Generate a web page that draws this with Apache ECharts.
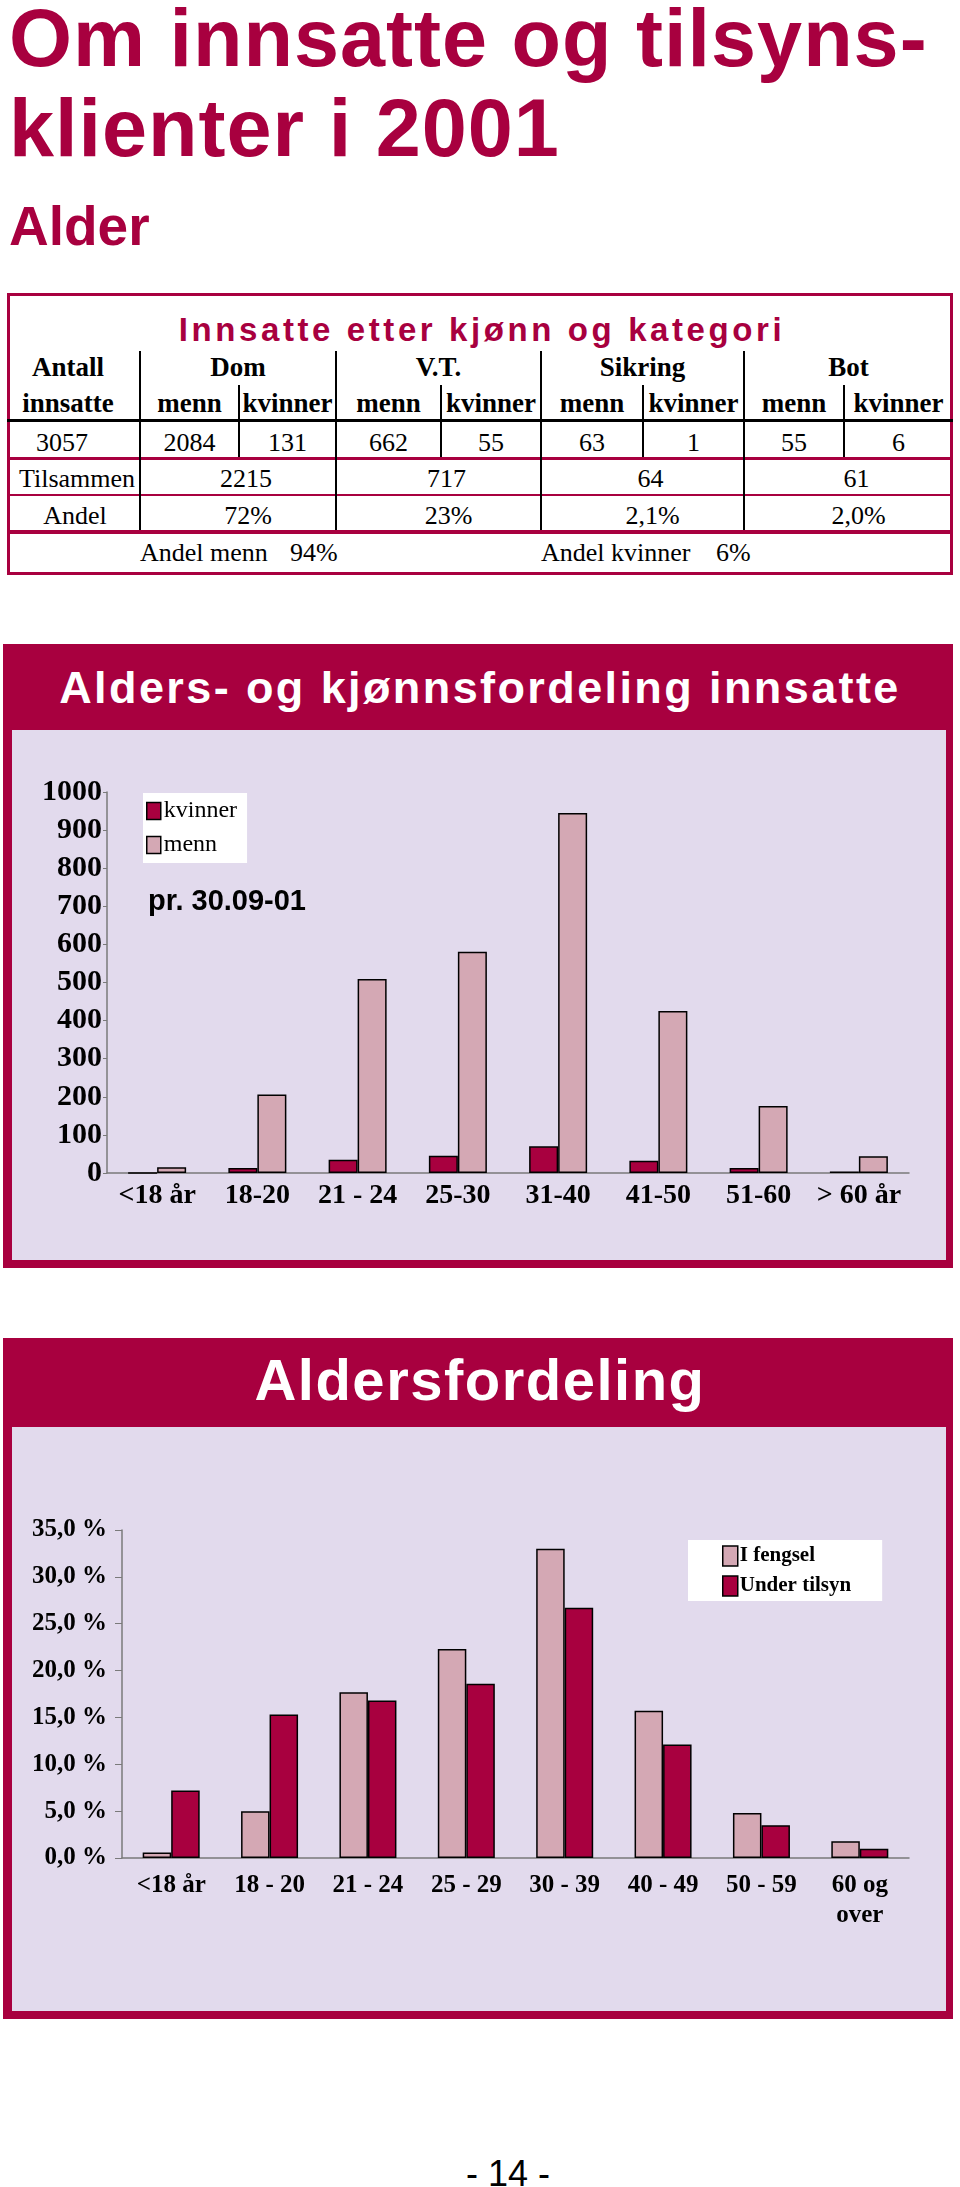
<!DOCTYPE html>
<html lang="no"><head><meta charset="utf-8"><title>Om innsatte og tilsynsklienter i 2001</title>
<script src="https://cdn.jsdelivr.net/npm/echarts@6/dist/echarts.min.js"></script>
<style>
html,body{margin:0;padding:0;background:#fff;}
#page{position:relative;width:960px;height:2187px;overflow:hidden;background:#fff;}
.t{position:absolute;white-space:nowrap;margin:0;}
.r{position:absolute;}
</style></head><body><div id="page"></div>
<script>
// ---------- data ----------
const tableGroups = ['Dom', 'V.T.', 'Sikring', 'Bot'];
const tableSub = ['menn', 'kvinner'];
const antallInnsatte = '3057';
const countsMenn = ['2084', '662', '63', '55'];
const countsKvinner = ['131', '55', '1', '6'];
const tilsammen = ['2215', '717', '64', '61'];
const andel = ['72%', '23%', '2,1%', '2,0%'];
const andelMenn = '94%';
const andelKvinner = '6%';

const ageCats1 = ['<18 år', '18-20', '21 - 24', '25-30', '31-40', '41-50', '51-60', '> 60 år'];
const kvinner1 = [0, 13, 35, 45, 70, 32, 13, 4];
const menn1 = [15, 206, 509, 581, 945, 425, 176, 44];

const ageCats2 = ['<18 år', '18 - 20', '21 - 24', '25 - 29', '30 - 39', '40 - 49', '50 - 59', '60 og\nover'];
const iFengsel = [0.6, 5.0, 17.7, 22.3, 33.0, 15.7, 4.8, 1.8];
const underTilsyn = [7.2, 15.3, 16.8, 18.6, 26.7, 12.1, 3.5, 1.0];

// ---------- page helpers ----------
const CRIMSON = '#A8003F';
const LAV = '#E2DAED';
const PINK = '#D4A8B4';
const SERIF = "'Liberation Serif','Times New Roman',serif";
const SANS = "'Liberation Sans',Arial,sans-serif";
const page = document.getElementById('page');
function txt(s, x, base, o) {
  const fs = o.fs;
  const d = document.createElement('div');
  d.className = 't';
  d.textContent = s;
  const asc = o.serif ? 0.8375 : 0.8465;
  d.style.fontFamily = o.serif ? SERIF : SANS;
  d.style.fontSize = fs + 'px';
  d.style.lineHeight = fs + 'px';
  d.style.fontWeight = o.bold ? 'bold' : 'normal';
  d.style.color = o.color || '#000';
  d.style.top = (base - asc * fs).toFixed(1) + 'px';
  d.style.letterSpacing = (o.ls || 0) + 'px';
  d.style.left = x + 'px';
  if (o.align !== 'left') d.style.transform = 'translateX(-50%)';
  page.appendChild(d);
  return d;
}
function rect(x, y, w, h, c, extra) {
  const d = document.createElement('div');
  d.className = 'r';
  d.style.left = x + 'px'; d.style.top = y + 'px';
  d.style.width = w + 'px'; d.style.height = h + 'px';
  if (c) d.style.background = c;
  if (extra) Object.assign(d.style, extra);
  page.appendChild(d);
  return d;
}

// ---------- headings ----------
txt('Om innsatte og tilsyns-', 9, 67, {fs: 81, bold: true, color: CRIMSON, align: 'left', ls: 1});
txt('klienter i 2001', 9, 157, {fs: 81, bold: true, color: CRIMSON, align: 'left', ls: 1});
txt('Alder', 9, 246, {fs: 55, bold: true, color: CRIMSON, align: 'left'});

// ---------- table ----------
rect(7, 293, 946, 282, null, {border: '3px solid ' + CRIMSON, boxSizing: 'border-box'});
txt('Innsatte etter kjønn og kategori', 482, 341, {fs: 33, bold: true, color: CRIMSON, ls: 3.6});
const mainSep = [140, 336, 541, 744];
const subSep = [239, 441, 643, 844];
const rightEdge = 953;
const groupCenters = mainSep.map((x, i) => (x + (mainSep[i + 1] || rightEdge)) / 2);
const subCenters = [];
mainSep.forEach((x, i) => {
  subCenters.push((x + subSep[i]) / 2);
  subCenters.push((subSep[i] + (mainSep[i + 1] || rightEdge)) / 2);
});
rect(7, 419, 946, 3, '#000');
rect(7, 457, 946, 3, CRIMSON);
rect(7, 494, 946, 2, CRIMSON);
rect(7, 530, 946, 4, CRIMSON);
mainSep.forEach(x => rect(x - 1, 351, 2, 179, '#000'));
subSep.forEach(x => rect(x - 1, 385, 2, 72, '#000'));

const hdr = {fs: 27, bold: true, serif: true};
const reg = {fs: 26, serif: true};
txt('Antall', 68, 377, hdr);
txt('innsatte', 68, 413, hdr);
tableGroups.forEach((g, i) => txt(g, groupCenters[i], 377, hdr));
subCenters.forEach((x, i) => txt(tableSub[i % 2], x, 413, hdr));
txt(antallInnsatte, 62, 452, reg);
countsMenn.forEach((v, i) => {
  txt(v, subCenters[2 * i], 452, reg);
  txt(countsKvinner[i], subCenters[2 * i + 1], 452, reg);
});
txt('Tilsammen', 77, 488, reg);
tilsammen.forEach((v, i) => txt(v, groupCenters[i] + 8, 488, reg));
txt('Andel', 75, 525, reg);
andel.forEach((v, i) => txt(v, groupCenters[i] + 10, 525, reg));
txt('Andel menn', 140, 562, Object.assign({align: 'left'}, reg));
txt(andelMenn, 290, 562, Object.assign({align: 'left'}, reg));
txt('Andel kvinner', 541, 562, Object.assign({align: 'left'}, reg));
txt(andelKvinner, 716, 562, Object.assign({align: 'left'}, reg));

// ---------- chart frames ----------
function frame(top, bottom, headH, title, fs, base, ls) {
  rect(3, top, 950, bottom - top, CRIMSON);
  rect(12, top + headH, 934, bottom - top - headH - 8, LAV);
  txt(title, 480, base, {fs: fs, bold: true, color: '#fff', ls: ls});
}
frame(644, 1268, 86, 'Alders- og kjønnsfordeling innsatte', 45, 703, 2.4);
frame(1338, 2019, 89, 'Aldersfordeling', 58, 1400, 1.5);

const c1 = rect(12, 730, 934, 530, null);
const c2 = rect(12, 1427, 934, 583, null);

txt('- 14 -', 508, 2186, {fs: 36});

// ---------- chart 1 ----------
const axisGrey = '#7a7a7a';
const chart1 = echarts.init(c1, null, {renderer: 'canvas'});
chart1.setOption({
  animation: false,
  textStyle: {fontFamily: SERIF},
  grid: {left: 95, right: 37, top: 62, bottom: 87},
  legend: {
    left: 131, top: 63, orient: 'vertical', icon: 'rect',
    backgroundColor: '#fff', padding: [6, 10, 6, 3], itemGap: 10,
    itemWidth: 14, itemHeight: 17,
    itemStyle: {borderColor: '#000', borderWidth: 1.5},
    textStyle: {fontFamily: SERIF, fontSize: 24, lineHeight: 24, color: '#000', padding: [0, 0, 0, -2]},
    data: ['kvinner', 'menn']
  },
  graphic: [{
    type: 'text', left: 136, top: 157,
    style: {text: 'pr. 30.09-01', font: 'bold 29px ' + SANS, fill: '#000'}
  }],
  xAxis: {
    type: 'category', data: ageCats1,
    axisLine: {lineStyle: {color: axisGrey, width: 1.5}},
    axisTick: {length: 5, lineStyle: {color: axisGrey, width: 1.5}},
    axisLabel: {interval: 0, color: '#000', fontWeight: 'bold', fontSize: 28, lineHeight: 28, margin: 9, fontFamily: SERIF}
  },
  yAxis: {
    type: 'value', min: 0, max: 1000, interval: 100,
    splitLine: {show: false},
    axisLine: {show: true, lineStyle: {color: axisGrey, width: 1.5}},
    axisTick: {show: true, length: 4, lineStyle: {color: axisGrey}},
    axisLabel: {color: '#000', fontWeight: 'bold', fontSize: 30, margin: 5, fontFamily: SERIF,
      formatter: v => String(v)}
  },
  series: [
    {name: 'kvinner', type: 'bar', data: kvinner1, barWidth: 29, barGap: '0%',
     itemStyle: {color: CRIMSON, borderColor: '#000', borderWidth: 1.5}},
    {name: 'menn', type: 'bar', data: menn1, barWidth: 29, barGap: '0%',
     itemStyle: {color: PINK, borderColor: '#000', borderWidth: 1.5}}
  ]
});

// ---------- chart 2 ----------
const chart2 = echarts.init(c2, null, {renderer: 'canvas'});
chart2.setOption({
  animation: false,
  textStyle: {fontFamily: SERIF},
  grid: {left: 110, right: 37, top: 103, bottom: 152},
  legend: {
    left: 676, top: 113, orient: 'vertical', icon: 'rect',
    backgroundColor: '#fff', padding: [5, 31, 4, 34], itemGap: 8,
    itemWidth: 15, itemHeight: 20,
    itemStyle: {borderColor: '#000', borderWidth: 1.5},
    textStyle: {fontFamily: SERIF, fontSize: 21, lineHeight: 22, fontWeight: 'bold', color: '#000', padding: [0, 0, 0, -3]},
    data: ['I fengsel', 'Under tilsyn']
  },
  xAxis: {
    type: 'category', data: ageCats2,
    axisLine: {lineStyle: {color: axisGrey, width: 1.5}},
    axisTick: {length: 5, lineStyle: {color: axisGrey, width: 1.5}},
    axisLabel: {interval: 0, color: '#000', fontWeight: 'bold', fontSize: 25, lineHeight: 30, margin: 13, fontFamily: SERIF}
  },
  yAxis: {
    type: 'value', min: 0, max: 35, interval: 5,
    splitLine: {show: false},
    axisLine: {show: true, lineStyle: {color: axisGrey, width: 1.5}},
    axisTick: {show: true, length: 7, lineStyle: {color: axisGrey}},
    axisLabel: {color: '#000', fontWeight: 'bold', fontSize: 25, margin: 15, fontFamily: SERIF,
      formatter: v => v.toFixed(1).replace('.', ',') + ' %'}
  },
  series: [
    {name: 'I fengsel', type: 'bar', data: iFengsel, barWidth: 28.5, barGap: '0%',
     itemStyle: {color: PINK, borderColor: '#000', borderWidth: 1.5}},
    {name: 'Under tilsyn', type: 'bar', data: underTilsyn, barWidth: 28.5, barGap: '0%',
     itemStyle: {color: CRIMSON, borderColor: '#000', borderWidth: 1.5}}
  ]
});
</script></body></html>
